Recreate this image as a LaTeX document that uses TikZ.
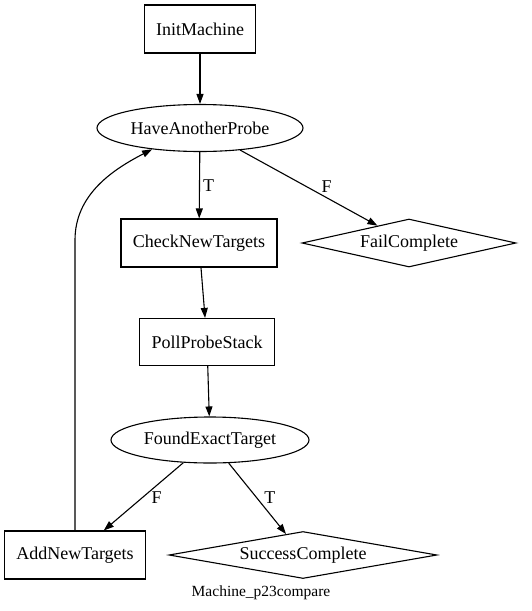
\documentclass[tikz,border=0pt]{standalone}
\usepackage{fontspec}
\setmainfont{Liberation Serif}
\usetikzlibrary{arrows.meta,shapes.geometric}
\begin{document}
\begin{tikzpicture}[x=1pt,y=-1pt,
  every node/.style={font=\fontsize{18}{20}\selectfont, inner sep=0pt},
  box/.style={draw, line width=1.1pt, rectangle},
  oval/.style={draw, line width=1.1pt, ellipse},
  dia/.style={draw, line width=1.1pt, diamond},
  conn/.style={line width=1.1pt, -{Triangle[length=10pt,width=7pt]}},
  lbl/.style={font=\fontsize{18}{20}\selectfont}
]
\useasboundingbox (0,0) rectangle (531,611);
\node[box, minimum width=111pt, minimum height=48pt] (init) at (200,29) {InitMachine};
\node[oval, minimum width=206pt, minimum height=47pt] (hap) at (200,128) {HaveAnotherProbe};
\node[box, minimum width=156pt, minimum height=48pt] (cnt) at (199,243) {CheckNewTargets};
\node[dia, shape aspect=4.46, minimum width=214pt, minimum height=48pt] (fail) at (409,243) {FailComplete};
\node[box, minimum width=135pt, minimum height=47pt] (pps) at (207,342) {PollProbeStack};
\node[oval, minimum width=198pt, minimum height=46pt] (fet) at (210,440) {FoundExactTarget};
\node[box, minimum width=141pt, minimum height=48pt] (ant) at (75,555) {AddNewTargets};
\node[dia, shape aspect=5.7, minimum width=268pt, minimum height=47pt] (succ) at (303,555) {SuccessComplete};
\node[font=\fontsize{15.5}{17}\selectfont] (title) at (261,593) {Machine\_p23compare};

\draw[conn] (init) -- (hap);
\draw[conn] (hap) -- node[lbl, right=3pt, pos=0.5] (t1) {T} (cnt);
\draw[conn] (hap) -- node[lbl, above=5pt, pos=0.63] (f1) {F} (fail);
\draw[conn] (cnt) -- (pps);
\draw[conn] (pps) -- (fet);
\draw[conn] (fet) -- node[lbl, right=9pt, pos=0.52] (f2) {F} (ant);
\draw[conn] (fet) -- node[lbl, right=7pt, pos=0.49] (t2) {T} (succ);
\coordinate (lp) at (75,240);
\draw[conn] (ant.north) -- (lp) .. controls (75,195) and (112,170) .. (hap.204);
\end{tikzpicture}
\end{document}
